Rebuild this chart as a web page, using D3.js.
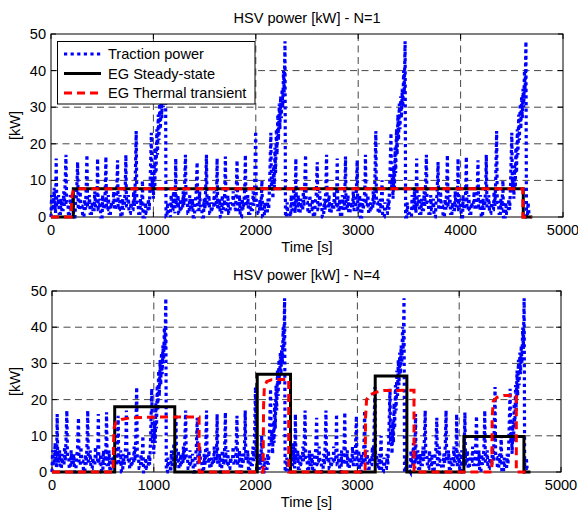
<!DOCTYPE html>
<html><head><meta charset="utf-8">
<script src="https://cdn.jsdelivr.net/npm/d3@7"></script>
<style>
html,body{margin:0;padding:0;background:#fff;}
svg{display:block;font-family:"Liberation Sans",Arial,sans-serif;}
</style></head>
<body>
<svg id="chart" width="578" height="513"></svg>
<script>
// ---------------- DATA ----------------
const xTicks = [0, 1000, 2000, 3000, 4000, 5000];
const yTicks = [0, 10, 20, 30, 40, 50];
const titles = ["HSV power [kW] - N=1", "HSV power [kW] - N=4"];
const legendLabels = ["Traction power", "EG Steady-state", "EG Thermal transient"];

// traction power: the drive cycle [time offset s, kW], repeated at cycleStarts
const cycleStarts = [0, 1167, 2340, 3520];
const tractionCycle = [
[0,0],[6,6],[12,2],[24,2],[30,8],[36,4],[44,1],
[47,7],[51,16],[56,3],
[68,3],[74,6],[80,1],[92,1],[98,5],[106,2],[118,2],[124,7],[130,3],[138,9],
[146,17],[152,4],
[164,4],[170,1],[182,1],[188,6],[196,2],[208,2],[214,5],[222,0],[234,0],[240,4],[250,6],
[260,15],[266,2],
[278,2],[284,7],[292,3],[304,3],[310,0],[322,0],[328,5],[336,2],[344,8],
[351,17],[357,3],
[369,3],[375,6],[383,1],[395,1],[401,4],[409,2],[421,2],[427,7],[435,3],[447,3],
[451,8],[455,16],[461,2],
[473,2],[479,5],[487,0],[499,0],[505,6],[513,2],[525,3],
[531,9],[536,16.5],[542,2],
[554,2],[560,6],[568,1],[580,1],[586,4],[594,3],[606,3],[612,7],[620,2],[632,2],[640,5],
[650,15.5],[656,2],
[668,2],[674,6],[682,0],[694,0],[700,5],[708,2],[718,4],
[726,9],[731,17],[737,3],
[749,3],[755,6],[763,1],[775,1],[781,4],[789,2],[801,2],[807,7],[815,3],[822,9],
[832,23.5],[838,4],
[850,4],[856,1],[868,1],[874,5],[882,2],
[887,5],[893,10],[899,0],
[915,0],[921,4],[929,1],[945,1],[951,5],[959,2],[967,8],
[980,23],[986,8],
[994,11],[1000,5],[1008,14],[1014,8],[1020,19],[1026,12],[1034,24],[1040,17],[1048,28],
[1054,21],[1062,31],[1068,24],[1076,33],[1082,27],[1090,35],[1096,30],[1104,40],[1110,34],
[1118,48],[1123,0],
[1133,0],[1139,4],[1147,1],[1160,1]
];

// EG generator power [time s, kW]
const steadyN1 = [[0,0],[218,0],[218,7.7],[4612,7.7],[4612,0],[4700,0]];
const thermalN1 = [[0,0],[196,0],[200,3.5],[206,6],[216,7.1],[235,7.5],[275,7.7],[4608,7.7],[4608,0],[4695,0]];
const steadyN4 = [[0,0],[616,0],[616,18],[1206,18],[1206,0],[2016,0],[2016,27],[2343,27],[2343,0],
                  [3175,0],[3175,26.5],[3486,26.5],[3486,0],[4046,0],[4046,9.8],[4636,9.8],[4636,0],[4700,0]];
const thermalN4 = [[0,0],[600,0],[604,8],[612,12.5],[630,13.8],[680,14.5],[760,14.9],[900,15.1],[1100,15.2],[1445,15.2],[1445,0],
                   [2074,0],[2078,18],[2086,23.5],[2110,25],[2160,25.5],[2325,25.6],[2325,0],
                   [3076,0],[3080,15],[3090,20],[3120,21.3],[3180,22],[3260,22.5],[3556,22.6],[3556,0],
                   [4320,0],[4324,15],[4334,19.5],[4370,20.6],[4440,21.1],[4561,21.2],[4561,0],[4700,0]];

// build the full traction series from the cycle table
const traction = [];
cycleStarts.forEach(s => tractionCycle.forEach(d => traction.push([s + d[0], d[1]])));

// ---------------- DRAW ----------------
const svg = d3.select("#chart");
const panels = [
  {title: titles[0], x0: 51, x1: 563, y0: 34, y1: 217, steady: steadyN1, thermal: thermalN1, legend: true},
  {title: titles[1], x0: 52, x1: 561, y0: 291, y1: 472, steady: steadyN4, thermal: thermalN4, legend: false}
];
const FS = 14.6;

panels.forEach(p => {
  const x = d3.scaleLinear().domain([0, 5000]).range([p.x0, p.x1]);
  const y = d3.scaleLinear().domain([0, 50]).range([p.y1, p.y0]);
  const g = svg.append("g");

  // grid
  g.selectAll(".gx").data(xTicks.slice(1, -1)).join("line")
    .attr("x1", d => x(d)).attr("x2", d => x(d)).attr("y1", p.y0).attr("y2", p.y1)
    .attr("stroke", "#333").attr("stroke-width", 0.9).attr("stroke-dasharray", "7 4.5");
  g.selectAll(".gy").data(yTicks.slice(1, -1)).join("line")
    .attr("y1", d => y(d)).attr("y2", d => y(d)).attr("x1", p.x0).attr("x2", p.x1)
    .attr("stroke", "#333").attr("stroke-width", 0.9).attr("stroke-dasharray", "7 4.5");

  // frame
  g.append("rect").attr("x", p.x0).attr("y", p.y0).attr("width", p.x1 - p.x0).attr("height", p.y1 - p.y0)
    .attr("fill", "none").attr("stroke", "#000").attr("stroke-width", 1);

  // inner ticks on all sides
  const tl = 5;
  xTicks.forEach(t => {
    g.append("line").attr("x1", x(t)).attr("x2", x(t)).attr("y1", p.y1).attr("y2", p.y1 - tl).attr("stroke", "#000");
    g.append("line").attr("x1", x(t)).attr("x2", x(t)).attr("y1", p.y0).attr("y2", p.y0 + tl).attr("stroke", "#000");
  });
  yTicks.forEach(t => {
    g.append("line").attr("y1", y(t)).attr("y2", y(t)).attr("x1", p.x0).attr("x2", p.x0 + tl).attr("stroke", "#000");
    g.append("line").attr("y1", y(t)).attr("y2", y(t)).attr("x1", p.x1).attr("x2", p.x1 - tl).attr("stroke", "#000");
  });

  // tick labels
  g.selectAll(".xl").data(xTicks).join("text")
    .attr("x", d => x(d)).attr("y", p.y1 + 18).attr("text-anchor", "middle")
    .attr("font-size", FS).attr("fill", "#000").text(d => d);
  g.selectAll(".yl").data(yTicks).join("text")
    .attr("x", p.x0 - 5).attr("y", d => y(d) + 5).attr("text-anchor", "end")
    .attr("font-size", FS).attr("fill", "#000").text(d => d);

  // titles / labels
  g.append("text").attr("x", (p.x0 + p.x1) / 2).attr("y", p.y0 - 11).attr("text-anchor", "middle")
    .attr("font-size", FS).text(p.title);
  g.append("text").attr("x", (p.x0 + p.x1) / 2).attr("y", p.y1 + 35).attr("text-anchor", "middle")
    .attr("font-size", FS).text("Time [s]");
  g.append("text").attr("transform", `translate(20,${(p.y0 + p.y1) / 2}) rotate(-90)`)
    .attr("text-anchor", "middle").attr("font-size", FS).text("[kW]");

  const line = d3.line().x(d => x(d[0])).y(d => y(d[1]));

  g.append("path").datum(traction).attr("d", line).attr("fill", "none")
    .attr("stroke", "#0000ff").attr("stroke-width", 3.2).attr("stroke-dasharray", "3.2 3.4");
  g.append("path").datum(p.steady).attr("d", line).attr("fill", "none")
    .attr("stroke", "#000").attr("stroke-width", 3);
  g.append("path").datum(p.thermal).attr("d", line).attr("fill", "none")
    .attr("stroke", "#ff0000").attr("stroke-width", 3).attr("stroke-dasharray", "8 5");

  if (p.legend) {
    const lg = g.append("g");
    lg.append("rect").attr("x", 57.5).attr("y", 41.5).attr("width", 197.5).attr("height", 62.5)
      .attr("fill", "#fff").attr("stroke", "#000").attr("stroke-width", 1);
    const styles = [
      {c: "#0000ff", w: 3.2, da: "3.2 3.4"},
      {c: "#000", w: 3, da: null},
      {c: "#ff0000", w: 3, da: "8 5"}
    ];
    const ly = [54, 73.5, 93];
    legendLabels.forEach((lab, i) => {
      const l = lg.append("line").attr("x1", 64).attr("x2", 101).attr("y1", ly[i]).attr("y2", ly[i])
        .attr("stroke", styles[i].c).attr("stroke-width", styles[i].w);
      if (styles[i].da) l.attr("stroke-dasharray", styles[i].da);
      lg.append("text").attr("x", 108).attr("y", ly[i] + 5).attr("font-size", FS).text(lab);
    });
  }
});
</script>
</body></html>
